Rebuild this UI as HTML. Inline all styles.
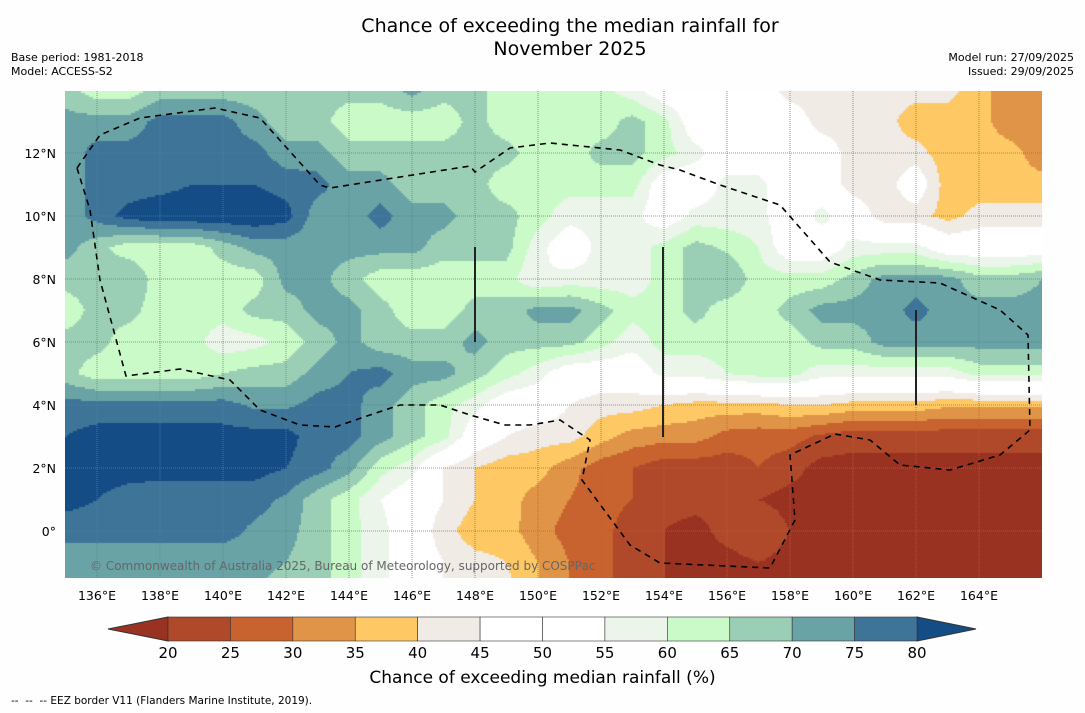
<!DOCTYPE html>
<html><head><meta charset="utf-8">
<style>
body{margin:0;background:#fdfefd;width:1085px;height:713px;overflow:hidden;font-family:"DejaVu Sans","Liberation Sans",sans-serif;position:relative}
.t{position:absolute;white-space:nowrap;color:#000}
</style></head><body>
<div class="t" style="left:0;width:1140px;text-align:center;top:15px;font-size:19px;line-height:23px">Chance of exceeding the median rainfall for<br>November 2025</div>
<div class="t" style="left:11px;top:51px;font-size:11px;line-height:14px">Base period: 1981-2018<br>Model: ACCESS-S2</div>
<div class="t" style="right:11px;top:51px;font-size:11px;line-height:14px;text-align:right">Model run: 27/09/2025<br>Issued: 29/09/2025</div>
<canvas id="map" width="977" height="487" style="position:absolute;left:65px;top:91px"></canvas>
<svg id="ov" width="1085" height="713" style="position:absolute;left:0;top:0"></svg>
<div class="t" style="left:0;width:1085px;text-align:center;top:668px;font-size:17px">Chance of exceeding median rainfall (%)</div>
<div class="t" style="left:11px;top:695px;font-size:10.5px">-- &nbsp;-- &nbsp;-- EEZ border V11 (Flanders Marine Institute, 2019).</div>
<script>
const lons=[135,136,137,138,139,140,141,142,143,144,145,146,147,148,149,150,151,152,153,154,155,156,157,158,159,160,161,162,163,164,165,166];
const lats=[14,13,12,11,10,9,8,7,6,5,4,3,2,1,0,-1,-2];
const row14=[67,62,62,67,67,67,67,67,67,67,67,72,67,67,62,62,62,62,57,50,50,50,50,42,42,42,42,42,42,37,32,32];
const row13=[72,72,72,77,77,77,72,67,67,62,62,62,62,67,62,62,62,62,67,62,50,50,50,50,42,42,42,37,37,37,32,32];
const row12=[72,77,77,77,77,77,77,72,72,67,67,67,67,67,67,62,62,67,67,62,57,50,50,50,50,42,42,42,37,37,37,32];
const row11=[72,77,77,78,80,80,80,78,77,72,72,67,67,67,62,62,62,62,62,50,50,57,57,50,50,42,42,50,37,37,37,37];
const row10=[72,77,82,84,84,84,84,82,72,72,77,72,72,67,67,62,57,57,57,50,57,57,57,50,57,50,42,42,38,42,42,42];
const row9=[72,67,62,62,62,67,72,72,72,72,72,72,67,67,67,57,50,57,57,62,67,64,60,50,50,57,57,57,50,50,50,50];
const row8=[67,67,70,62,62,62,62,72,72,67,62,62,62,62,62,55,57,57,57,62,67,70,62,62,62,67,72,72,72,67,67,70];
const row7=[62,67,67,62,62,62,67,67,72,72,67,62,62,67,67,72,72,67,62,62,67,62,62,67,72,72,72,77,72,72,72,72];
const row6=[67,67,62,62,62,57,58,62,67,72,67,67,67,72,67,67,67,62,57,62,62,62,62,62,67,67,72,72,72,72,72,72];
const row5=[67,62,62,62,62,65,67,67,72,75,77,72,72,67,62,57,50,50,50,57,57,60,62,62,57,57,57,57,57,62,62,62];
const row4=[77,77,77,77,77,77,74,74,77,77,72,67,62,57,50,50,45,42,42,40,38,38,38,40,40,38,38,38,36,36,36,36];
const row3=[80,82,82,82,82,82,82,82,77,77,72,67,62,50,45,42,42,37,33,32,32,28,27,27,24,22,22,22,22,22,22,22];
const row2=[82,82,82,82,82,82,82,80,77,72,62,57,45,40,37,37,32,27,25,22,22,22,25,22,18,18,18,18,18,18,18,18];
const row1=[82,80,78,77,77,77,77,74,67,62,55,50,45,40,37,33,30,27,25,22,22,22,20,18,18,18,18,18,18,18,18,18];
const row0=[77,77,77,77,77,77,74,72,67,62,57,50,42,37,37,32,28,27,22,20,18,22,25,20,18,18,18,18,18,18,18,18];
const rowM1=[72,72,72,72,72,72,72,70,67,62,57,50,45,42,40,35,30,27,22,20,18,18,20,18,18,18,18,18,18,18,18,18];
const rowM2=[70,70,70,70,70,70,70,67,67,62,57,50,45,42,42,35,30,27,22,20,18,18,20,18,18,18,18,18,18,18,18,18];
const grid=[row14,row13,row12,row11,row10,row9,row8,row7,row6,row5,row4,row3,row2,row1,row0,rowM1,rowM2];
const levels=[20,25,30,35,40,45,50,55,60,65,70,75,80];
const colors=["#993220","#b0482a","#c8622f","#e09448","#fec864","#f1ebe6","#ffffff","#ffffff","#ebf5ea","#c9fac8","#9bcfb5","#6aa3a6","#3e7498","#144c85"];
const xTicks=[136,138,140,142,144,146,148,150,152,154,156,158,160,162,164];
const yTicks=[0,2,4,6,8,10,12];
const PX=31.5;
const xOf=lon=>65+(lon-136)*PX+32;
const yOf=lat=>531-lat*PX;
function val(lon,lat){
  let fi=(lon-lons[0]); let fj=(lats[0]-lat);
  fi=Math.max(0,Math.min(lons.length-1.001,fi)); fj=Math.max(0,Math.min(lats.length-1.001,fj));
  const i=Math.floor(fi),j=Math.floor(fj),a=fi-i,b=fj-j;
  return grid[j][i]*(1-a)*(1-b)+grid[j][i+1]*a*(1-b)+grid[j+1][i]*(1-a)*b+grid[j+1][i+1]*a*b;
}
function cls(v){let k=0;while(k<levels.length&&v>=levels[k])k++;return k;}
const cv=document.getElementById('map'),ctx=cv.getContext('2d');
const S=2;
for(let py=0;py<487;py+=S){for(let px=0;px<977;px+=S){
  const lon=136+(65+px+S/2-97)/PX, lat=(531-(91+py+S/2))/PX;
  ctx.fillStyle=colors[cls(val(lon,lat))];ctx.fillRect(px,py,S,S);
}}
const NS='http://www.w3.org/2000/svg',ov=document.getElementById('ov');
const FF='DejaVu Sans, Liberation Sans, sans-serif';
function mk(t,a,p){const e=document.createElementNS(NS,t);for(const k in a)e.setAttribute(k,a[k]);(p||ov).appendChild(e);return e;}
xTicks.forEach(l=>{const x=xOf(l);
  const g=mk('line',{x1:x,y1:91,x2:x,y2:578,stroke:'#777','stroke-width':0.8,'stroke-dasharray':'1,1'});
  
  
  const t=mk('text',{x:x,y:600,'font-size':12.5,'text-anchor':'middle','font-family':FF});t.textContent=l+'°E';
  
  
});
yTicks.forEach(l=>{const y=yOf(l);
  const g=mk('line',{x1:65,y1:y,x2:1042,y2:y,stroke:'#777','stroke-width':0.8,'stroke-dasharray':'1,1'});
  
  
  const t=mk('text',{x:56,y:y+5,'font-size':12.5,'text-anchor':'end','font-family':FF});t.textContent=l===0?'0°':l+'°N';
  
  
});
const eez="77,168 100,135 140,118 215,108 260,118 320,185 330,188 470,166 475,172 510,148 550,143 620,150 660,165 680,170 720,185 780,205 830,262 880,280 940,283 1000,310 1028,335 1030,430 1000,455 950,470 900,465 870,440 835,434 790,455 795,520 770,568 660,563 630,545 582,480 590,440 560,420 530,425 505,425 470,415 440,405 400,405 370,415 335,427 300,425 260,410 230,380 180,369 126,376 100,280 90,210 77,168";
const e=mk('polyline',{points:eez,fill:'none',stroke:'#000','stroke-width':1.6,'stroke-dasharray':'6,5'});


[[475,247,342],[663,247,437],[916,310,405]].forEach(v=>{const l=mk('line',{x1:v[0],y1:v[1],x2:v[0],y2:v[2],stroke:'#222','stroke-width':2});
  
  });
const cr=mk('text',{x:90,y:570,'font-size':12,fill:'#666','font-family':FF});cr.textContent='© Commonwealth of Australia 2025, Bureau of Meteorology, supported by COSPPac';


const cbL=168,cbR=917,cbT=617,cbB=641,w=(cbR-cbL)/12;
const a1=mk('polygon',{points:`108,629 ${cbL},${cbT} ${cbL},${cbB}`,fill:colors[0],stroke:'#333','stroke-width':1});


const a2=mk('polygon',{points:`976,629 ${cbR},${cbT} ${cbR},${cbB}`,fill:colors[13],stroke:'#333','stroke-width':1});


for(let k=0;k<12;k++){const r=mk('rect',{x:cbL+k*w,y:cbT,width:w,height:cbB-cbT,fill:colors[k+1],stroke:'#333','stroke-width':0.6});
  
  }
levels.forEach((l,k)=>{const t=mk('text',{x:cbL+k*w,y:658,'font-size':15,'text-anchor':'middle','font-family':FF});t.textContent=l;
  
  });
</script>
</body></html>
